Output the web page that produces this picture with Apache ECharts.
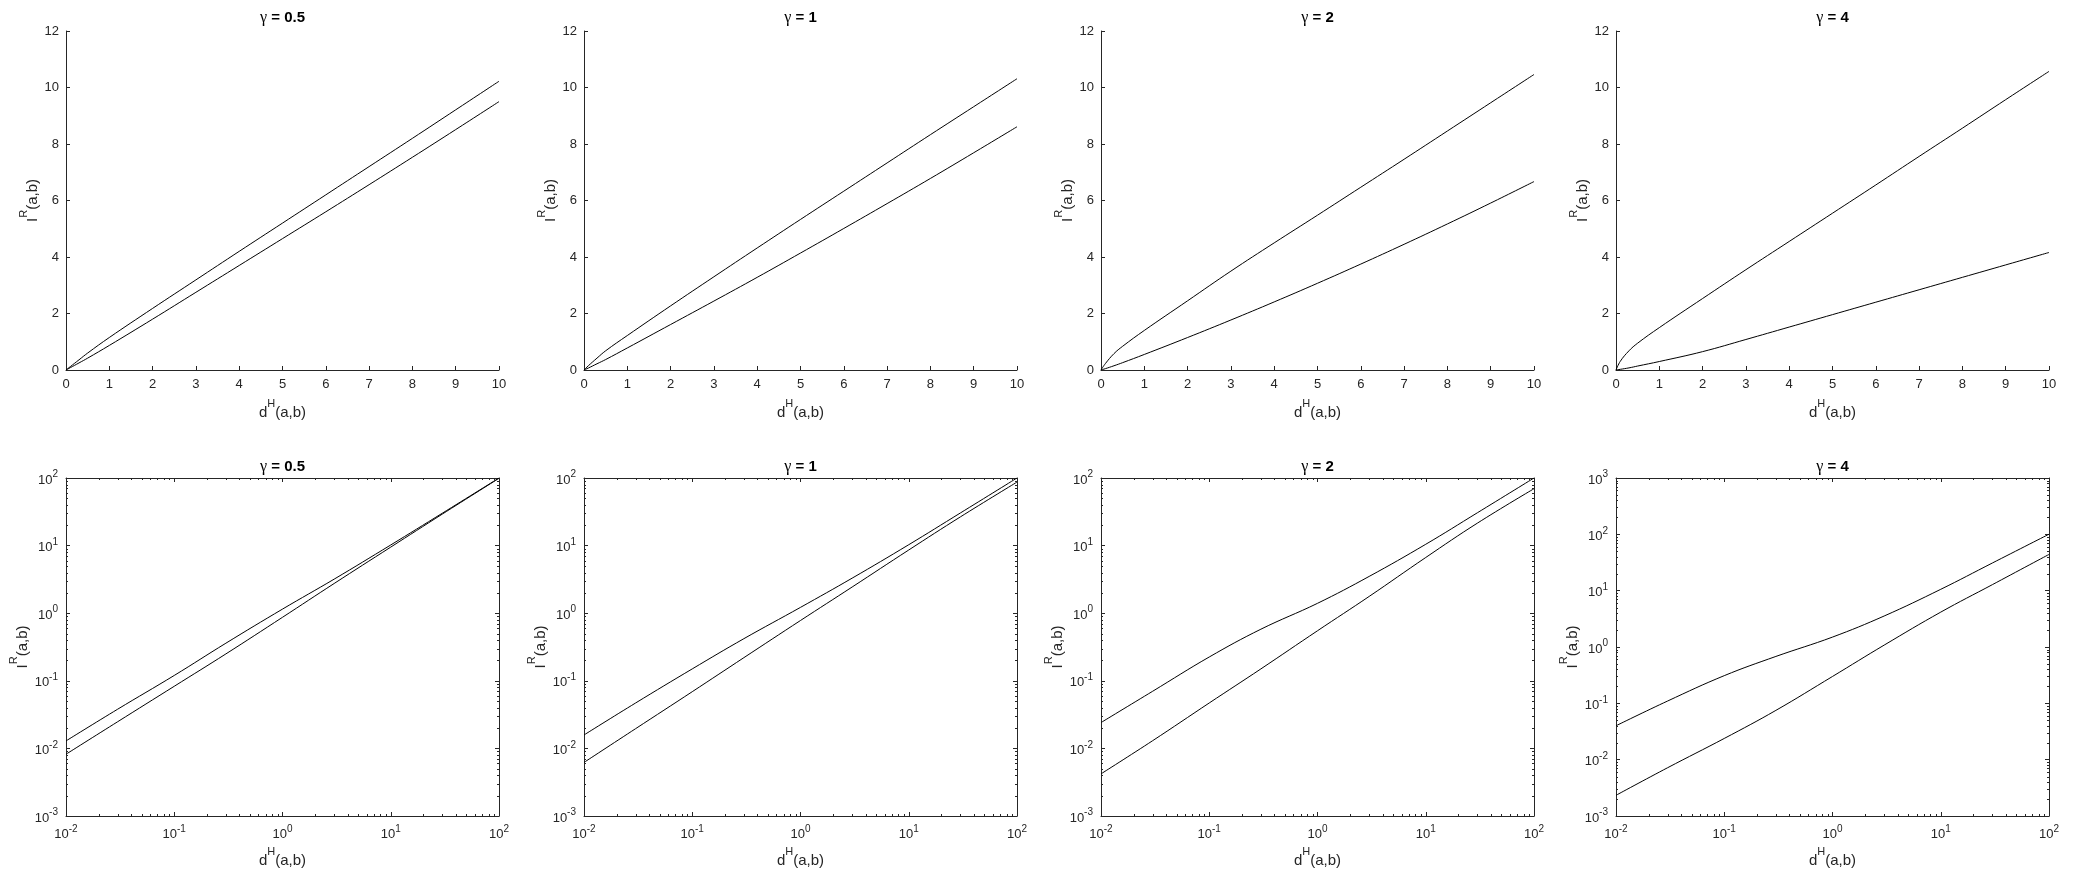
<!DOCTYPE html>
<html>
<head>
<meta charset="utf-8">
<script src="https://cdn.jsdelivr.net/npm/echarts@6/dist/echarts.min.js"></script>
<style>
html,body{margin:0;padding:0;background:#fff;}
#c{width:2073px;height:879px;}
</style>
</head>
<body>
<div id="c"></div>
<script>
// ---------- data ----------
const gammas = ['0.5', '1', '2', '4'];

// linear panels (top row)
const linX = [0, 0.1, 0.3, 0.5, 1, 2, 3, 4, 5, 6, 7, 8, 9, 10];
const linUpperG05 = [0, 0.12, 0.36, 0.6, 1.15, 2.18, 3.19, 4.2, 5.2, 6.2, 7.2, 8.2, 9.21, 10.22];
const linLowerG05 = [0, 0.083, 0.25, 0.42, 0.87, 1.8, 2.75, 3.7, 4.65, 5.6, 6.56, 7.53, 8.51, 9.5];
const linUpperG1  = [0, 0.15, 0.42, 0.68, 1.22, 2.27, 3.3, 4.32, 5.33, 6.33, 7.33, 8.33, 9.32, 10.31];
const linLowerG1  = [0, 0.069, 0.22, 0.37, 0.78, 1.61, 2.44, 3.28, 4.14, 5.01, 5.89, 6.78, 7.69, 8.61];
const linUpperG2  = [0, 0.225, 0.58, 0.84, 1.4, 2.45, 3.5, 4.5, 5.48, 6.47, 7.46, 8.46, 9.46, 10.46];
const linLowerG2  = [0, 0.047, 0.15, 0.26, 0.55, 1.15, 1.77, 2.41, 3.07, 3.75, 4.45, 5.17, 5.91, 6.67];
const linUpperG4  = [0, 0.31, 0.68, 0.95, 1.5, 2.53, 3.55, 4.55, 5.55, 6.55, 7.56, 8.56, 9.57, 10.57];
const linLowerG4  = [0, 0.0238, 0.075, 0.14, 0.3, 0.65, 1.08, 1.52, 1.96, 2.4, 2.84, 3.28, 3.72, 4.16];

// log-log panels (bottom row)
const logX = [0.01, 0.03, 0.1, 0.3, 1, 3, 10, 30, 100];
const logUpperG05 = [0.0129, 0.038, 0.12, 0.36, 1.15, 3.19, 10.22, 30.2, 100];
const logLowerG05 = [0.0082, 0.0248, 0.083, 0.25, 0.87, 2.75, 9.5, 29.3, 99];
const logUpperG1  = [0.0158, 0.047, 0.15, 0.42, 1.22, 3.3, 10.31, 30.4, 100];
const logLowerG1  = [0.0062, 0.0196, 0.069, 0.22, 0.78, 2.44, 8.61, 26.6, 87];
const logUpperG2  = [0.0241, 0.07, 0.225, 0.58, 1.4, 3.5, 10.46, 30.6, 100];
const logLowerG2  = [0.0042, 0.013, 0.047, 0.15, 0.55, 1.77, 6.67, 21.5, 69.5];
const logUpperG4  = [0.04, 0.11, 0.31, 0.68, 1.5, 3.55, 10.57, 31, 100.5];
const logLowerG4  = [0.00233, 0.0072, 0.0238, 0.075, 0.3, 1.08, 4.16, 12.8, 44];

// axis ranges / ticks
const linXMin = 0, linXMax = 10, linXStep = 1;
const linYMin = 0, linYMax = 12, linYStep = 2;
const logXMin = 0.01, logXMax = 100;
const logYMin = 0.001;
const logYMax = [100, 100, 100, 1000];

const linUpper = [linUpperG05, linUpperG1, linUpperG2, linUpperG4];
const linLower = [linLowerG05, linLowerG1, linLowerG2, linLowerG4];
const logUpper = [logUpperG05, logUpperG1, logUpperG2, logUpperG4];
const logLower = [logLowerG05, logLowerG1, logLowerG2, logLowerG4];

// ---------- styling / layout ----------
const FONT = '"Liberation Sans", Arial, Helvetica, sans-serif';
const GFONT = '"Liberation Serif", "DejaVu Serif", serif';
const AX = '#262626';
const colLeft = [66, 584, 1101, 1616];
const W = 433;
const TOP1 = 31, H1 = 339;
const TOP2 = 478, H2 = 338;

const nameRich = {
  n: {fontSize: 15, fontFamily: FONT, color: AX, lineHeight: 22, verticalAlign: 'bottom'},
  s: {fontSize: 11, fontFamily: FONT, color: AX, lineHeight: 13, verticalAlign: 'top'}
};
const tickRich = {
  b: {fontSize: 13, fontFamily: FONT, color: AX, lineHeight: 17, verticalAlign: 'bottom'},
  s: {fontSize: 10, fontFamily: FONT, color: AX, lineHeight: 10, verticalAlign: 'top'}
};
const xName = '{n|d}{s|H}{n|(a,b)}';
const yName = '{n|I}{s|R}{n|(a,b)}';
const powLabel = v => '{b|10}{s|' + Math.round(Math.log10(v)) + '}';

function minorValues(lo, hi) {
  const out = [];
  for (let e = Math.round(Math.log10(lo)); e < Math.round(Math.log10(hi)); e++) {
    for (let m = 2; m <= 9; m++) out.push(+(m * Math.pow(10, e)).toPrecision(3));
  }
  return out;
}

const grid = [], xAxis = [], yAxis = [], series = [], graphic = [];

function lineSeries(xi, yi, xs, ys) {
  return {
    type: 'line', xAxisIndex: xi, yAxisIndex: yi,
    data: xs.map((x, k) => [x, ys[k]]),
    showSymbol: false, symbol: 'none', smooth: 0.4, clip: true,
    lineStyle: {color: '#000', width: 1}, silent: true, animation: false
  };
}

for (let i = 0; i < 4; i++) {
  // ----- top row: linear -----
  grid.push({left: colLeft[i], top: TOP1, width: W, height: H1, outerBoundsMode: 'none', containLabel: false});
  const gTop = grid.length - 1;
  xAxis.push({
    gridIndex: gTop, type: 'value', min: linXMin, max: linXMax, interval: linXStep,
    axisLine: {show: true, onZero: false, lineStyle: {color: AX, width: 1}},
    axisTick: {show: true, inside: true, length: 4, lineStyle: {color: AX, width: 1}},
    axisLabel: {show: true, color: AX, fontSize: 13, fontFamily: FONT, margin: 8, hideOverlap: false},
    splitLine: {show: false},
    name: xName, nameLocation: 'middle', nameGap: 28,
    nameTextStyle: {rich: nameRich}
  });
  yAxis.push({
    gridIndex: gTop, type: 'value', min: linYMin, max: linYMax, interval: linYStep,
    axisLine: {show: true, onZero: false, lineStyle: {color: AX, width: 1}},
    axisTick: {show: true, inside: true, length: 4, lineStyle: {color: AX, width: 1}},
    axisLabel: {show: true, color: AX, fontSize: 13, fontFamily: FONT, margin: 7, hideOverlap: false},
    splitLine: {show: false},
    name: yName, nameLocation: 'middle', nameGap: 22,
    nameTextStyle: {rich: nameRich}
  });
  const xiT = xAxis.length - 1, yiT = yAxis.length - 1;
  series.push(lineSeries(xiT, yiT, linX, linUpper[i]));
  series.push(lineSeries(xiT, yiT, linX, linLower[i]));

  // ----- bottom row: log-log with box -----
  grid.push({left: colLeft[i], top: TOP2, width: W, height: H2, outerBoundsMode: 'none', containLabel: false});
  const gBot = grid.length - 1;
  const ymax = logYMax[i];
  const logAxisCommon = {
    gridIndex: gBot, type: 'log', logBase: 10,
    axisLine: {show: true, onZero: false, lineStyle: {color: AX, width: 1}},
    axisTick: {show: true, inside: true, length: 4, lineStyle: {color: AX, width: 1}},
    splitLine: {show: false}, minorTick: {show: false}, minorSplitLine: {show: false}
  };
  xAxis.push(Object.assign({}, logAxisCommon, {
    position: 'bottom', min: logXMin, max: logXMax, splitNumber: 4,
    axisLabel: {show: true, formatter: powLabel, rich: tickRich, margin: 8, hideOverlap: false},
    name: xName, nameLocation: 'middle', nameGap: 30, nameTextStyle: {rich: nameRich}
  }));
  const xiB = xAxis.length - 1;
  xAxis.push(Object.assign({}, logAxisCommon, {
    position: 'top', min: logXMin, max: logXMax, splitNumber: 4, axisLabel: {show: false}
  }));
  yAxis.push(Object.assign({}, logAxisCommon, {
    position: 'left', min: logYMin, max: ymax, splitNumber: i === 3 ? 6 : 5,
    axisLabel: {show: true, formatter: powLabel, rich: tickRich, margin: 8, hideOverlap: false},
    name: yName, nameLocation: 'middle', nameGap: 36, nameTextStyle: {rich: nameRich}
  }));
  const yiB = yAxis.length - 1;
  yAxis.push(Object.assign({}, logAxisCommon, {
    position: 'right', min: logYMin, max: ymax, splitNumber: i === 3 ? 6 : 5, axisLabel: {show: false}
  }));

  series.push(lineSeries(xiB, yiB, logX, logUpper[i]));
  series.push(lineSeries(xiB, yiB, logX, logLower[i]));

  // minor ticks (2..9 x 10^k) on all four sides, placed through the axes' own scales
  const minorX = minorValues(logXMin, logXMax);
  const minorY = minorValues(logYMin, ymax);
  series.push({
    type: 'custom', xAxisIndex: xiB, yAxisIndex: yiB, silent: true, clip: false, z: 5, animation: false,
    data: minorX.map(v => [v, 1]),
    renderItem: function (params, api) {
      const cs = params.coordSys;
      const p = api.coord([api.value(0), api.value(1)]);
      const x = Math.round(p[0]) + 0.5;
      const st = {stroke: AX, lineWidth: 1};
      return {type: 'group', children: [
        {type: 'line', shape: {x1: x, y1: cs.y + cs.height, x2: x, y2: cs.y + cs.height - 2}, style: st},
        {type: 'line', shape: {x1: x, y1: cs.y, x2: x, y2: cs.y + 2}, style: st}
      ]};
    }
  });
  series.push({
    type: 'custom', xAxisIndex: xiB, yAxisIndex: yiB, silent: true, clip: false, z: 5, animation: false,
    data: minorY.map(v => [1, v]),
    renderItem: function (params, api) {
      const cs = params.coordSys;
      const p = api.coord([api.value(0), api.value(1)]);
      const y = Math.round(p[1]) + 0.5;
      const st = {stroke: AX, lineWidth: 1};
      return {type: 'group', children: [
        {type: 'line', shape: {x1: cs.x, y1: y, x2: cs.x + 2, y2: y}, style: st},
        {type: 'line', shape: {x1: cs.x + cs.width, y1: y, x2: cs.x + cs.width - 2, y2: y}, style: st}
      ]};
    }
  });

  // titles
  const cx = colLeft[i] + W / 2;
  [18, 467].forEach(function (ty) {
    graphic.push({
      type: 'text', x: cx, y: ty, silent: true,
      style: {
        text: '{g|γ} = ' + gammas[i],
        font: 'bold 15px ' + FONT, fill: '#000',
        align: 'center', verticalAlign: 'middle',
        rich: {g: {fontFamily: GFONT, fontWeight: 'normal', fontSize: 16, fill: '#000'}}
      }
    });
  });
}

const chart = echarts.init(document.getElementById('c'), null, {renderer: 'canvas', width: 2073, height: 879});
chart.setOption({
  animation: false,
  backgroundColor: '#fff',
  textStyle: {fontFamily: FONT, color: AX},
  grid: grid, xAxis: xAxis, yAxis: yAxis, series: series, graphic: graphic
});
</script>
</body>
</html>
